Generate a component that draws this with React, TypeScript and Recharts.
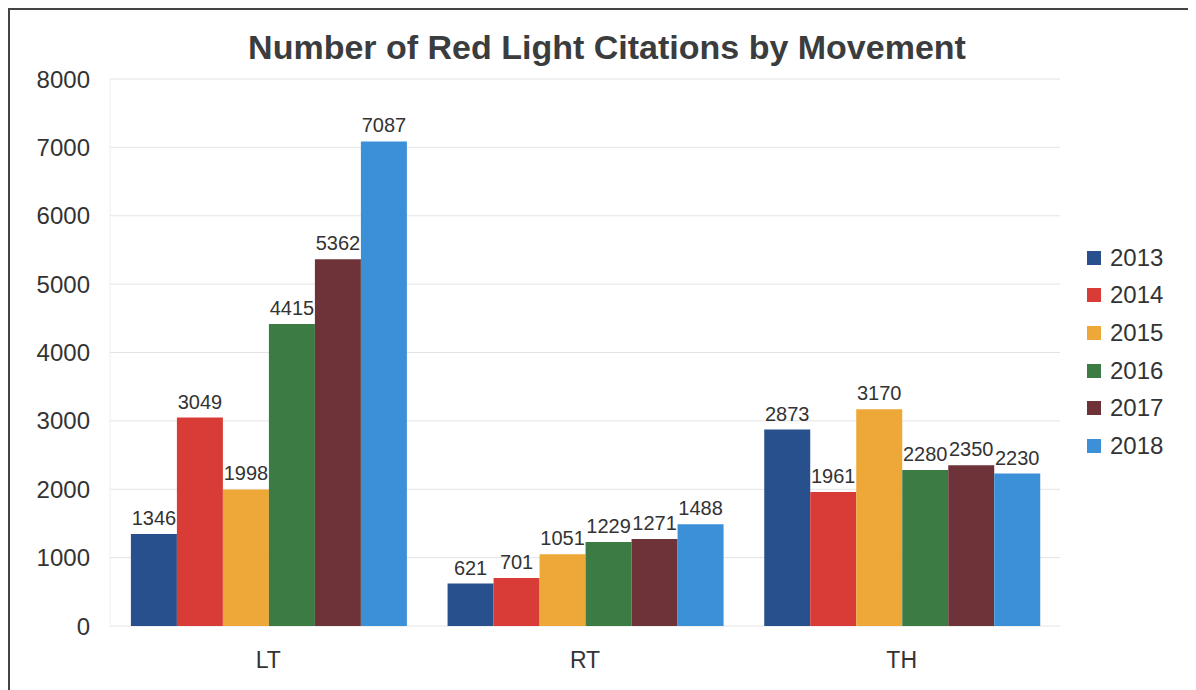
import React from 'react';
import { BarChart, Bar, XAxis, YAxis, CartesianGrid, LabelList } from 'recharts';

const movements = ['LT', 'RT', 'TH'];
const years = ['2013', '2014', '2015', '2016', '2017', '2018'];
const yearColors = ['#27508c', '#d93b36', '#eea838', '#3d7b45', '#6e3338', '#3b90d8'];

const citations2013 = [1346, 621, 2873];
const citations2014 = [3049, 701, 1961];
const citations2015 = [1998, 1051, 3170];
const citations2016 = [4415, 1229, 2280];
const citations2017 = [5362, 1271, 2350];
const citations2018 = [7087, 1488, 2230];

const yTicks = [0, 1000, 2000, 3000, 4000, 5000, 6000, 7000, 8000];

const seriesValues = [citations2013, citations2014, citations2015, citations2016, citations2017, citations2018];

const data = movements.map((m, i) => {
  const row: Record<string, string | number> = { name: m };
  years.forEach((y, j) => {
    row[y] = seriesValues[j][i];
  });
  return row;
});

const FONT = '"Liberation Sans", Arial, sans-serif';

const LegendBox = () => (
  <div style={{ position: 'absolute', top: 229, left: 1077, fontFamily: FONT }}>
    {years.map((y, i) => (
      <div key={y} style={{ display: 'flex', alignItems: 'center', height: 37.6 }}>
        <div style={{ width: 14, height: 14, background: yearColors[i], marginRight: 9 }} />
        <span style={{ fontSize: 24, color: '#333' }}>{y}</span>
      </div>
    ))}
  </div>
);

export default function App() {
  return (
    <div style={{ width: 1188, height: 682, overflow: 'hidden' }}>
      <div
        style={{
          position: 'relative',
          width: 1196,
          height: 700,
          borderLeft: '2px solid #444',
          borderTop: '2px solid #444',
          background: '#fff',
          fontFamily: FONT,
        }}
      >
        <div
          style={{
            position: 'absolute',
            top: 18,
            left: 0,
            width: 1194,
            textAlign: 'center',
            fontSize: 34,
            fontWeight: 'bold',
            color: '#3a3c3e',
          }}
        >
          Number of Red Light Citations by Movement
        </div>
        <BarChart
          width={1176}
          height={680}
          data={data}
          margin={{ top: 69, right: 126, bottom: 24, left: 0 }}
          barCategoryGap="6.6%"
          barGap={0}
        >
          <CartesianGrid vertical={false} stroke="#e4e4e4" />
          <XAxis
            dataKey="name"
            axisLine={false}
            tickLine={false}
            height={40}
            tick={{ fontSize: 23, fill: '#333', fontFamily: FONT }}
            tickMargin={20}
          />
          <YAxis
            domain={[0, 8000]}
            ticks={yTicks}
            width={100}
            axisLine={{ stroke: '#eeeeee' }}
            tickLine={false}
            tickMargin={14}
            tick={{ fontSize: 24, fill: '#333', fontFamily: FONT }}
          />
          {years.map((y, i) => (
            <Bar key={y} dataKey={y} fill={yearColors[i]} isAnimationActive={false}>
              <LabelList dataKey={y} position="top" offset={9} style={{ fontSize: 20, fill: '#333', fontFamily: FONT }} />
            </Bar>
          ))}
        </BarChart>
        <LegendBox />
      </div>
    </div>
  );
}
